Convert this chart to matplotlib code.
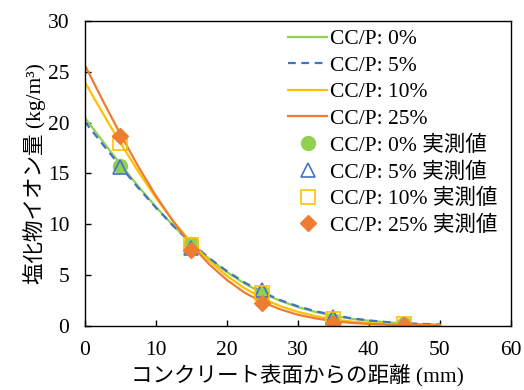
import numpy as np
import matplotlib
matplotlib.use('Agg')
import matplotlib.pyplot as plt

plt.rcParams['font.family'] = ['Liberation Serif', 'Noto Sans CJK JP']

# fitted curves, read every 2.5 mm
depth = [0, 2.5, 5, 7.5, 10, 12.5, 15, 17.5, 20, 22.5, 25, 27.5, 30,
         32.5, 35, 37.5, 40, 42.5, 45, 47.5, 50]
fit_0 = [20.5, 18.19, 15.93, 13.76, 11.72, 9.83, 8.12, 6.61, 5.29, 4.16, 3.22,
         2.46, 1.84, 1.35, 0.98, 0.69, 0.49, 0.33, 0.22, 0.15, 0.10]
fit_5 = [20.1, 17.89, 15.72, 13.61, 11.64, 9.81, 8.16, 6.67, 5.39, 4.26, 3.32,
         2.53, 1.91, 1.43, 1.05, 0.74, 0.52, 0.36, 0.24, 0.17, 0.11]
fit_10 = [24.0, 20.98, 18.02, 15.24, 12.62, 10.27, 8.18, 6.41, 4.92, 3.70, 2.71,
          1.94, 1.37, 0.94, 0.62, 0.41, 0.26, 0.17, 0.10, 0.06, 0.04]
fit_25 = [25.7, 22.23, 18.89, 15.73, 12.82, 10.23, 7.97, 6.07, 4.52, 3.26, 2.34,
          1.62, 1.08, 0.72, 0.46, 0.28, 0.17, 0.10, 0.06, 0.03, 0.02]

# measured values
meas_x = [5, 15, 25, 35, 45]
meas_0 = [15.7, 8.0, 3.2, 0.55, 0.15]
meas_5 = [15.6, 7.6, 3.5, 0.9, 0.2]
meas_10 = [18.0, 7.9, 3.2, 0.63, 0.12]
meas_25 = [18.7, 7.5, 2.25, 0.25, 0.07]

labels = ['CC/P: 0%', 'CC/P: 5%', 'CC/P: 10%', 'CC/P: 25%']
colors = ['#92D050', '#4472C4', '#FFC000', '#ED7D31']

fig = plt.figure(figsize=(5.24, 3.9), dpi=100)
ax = fig.add_axes([0.1616, 0.1649, 0.813, 0.7813])

ax.plot(depth, fit_0, color=colors[0], lw=1.6, label=labels[0])
ax.plot(depth, fit_5, color=colors[1], lw=1.6, ls=(0, (3.5, 2.5)), label=labels[1])
ax.plot(depth, fit_10, color=colors[2], lw=1.6, label=labels[2])
ax.plot(depth, fit_25, color=colors[3], lw=1.6, label=labels[3])

ax.plot(meas_x, meas_0, 'o', color=colors[0], ms=10, ls='none',
        label=labels[0] + ' 実測値')
ax.plot(meas_x, meas_5, '^', mfc='none', mec=colors[1], mew=1.2, ms=10, ls='none',
        label=labels[1] + ' 実測値')
ax.plot(meas_x, meas_10, 's', mfc='none', mec=colors[2], mew=1.2, ms=9.5, ls='none',
        label=labels[2] + ' 実測値')
ax.plot(meas_x, meas_25, 'D', color=colors[3], ms=8.5, ls='none',
        label=labels[3] + ' 実測値')

ax.set_xlim(0, 60)
ax.set_ylim(0, 30)
ax.set_xticks(range(0, 61, 10))
ax.set_yticks(range(0, 31, 5))
ax.tick_params(direction='in', length=4, width=1, labelsize=15.5)
ax.tick_params(axis='x', pad=11)
ax.tick_params(axis='y', pad=11)
for s in ax.spines.values():
    s.set_linewidth(1)

ax.set_xlabel('コンクリート表面からの距離 (mm)', fontsize=15.5, labelpad=3)
ax.set_ylabel('塩化物イオン量 (kg/m³)', fontsize=15.5, labelpad=1)

ax.legend(loc='upper right', frameon=False, fontsize=15.5, numpoints=1,
          handlelength=1.8, handletextpad=0.15, labelspacing=0.3,
          borderaxespad=0.2, bbox_to_anchor=(1.0, 1.015))

fig.savefig('out.png', dpi=100)
